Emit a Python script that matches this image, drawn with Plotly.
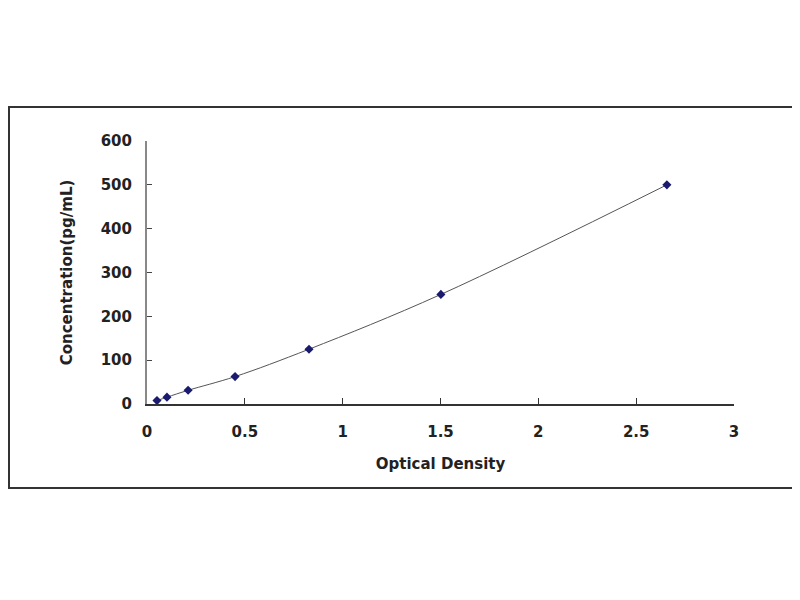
import plotly.graph_objects as go

# standard curve points
optical_density = [0.051, 0.102, 0.21, 0.45, 0.828, 1.502, 2.657]
concentration = [7.8, 15.6, 31.25, 62.5, 125, 250, 500]

x_ticks = [0, 0.5, 1, 1.5, 2, 2.5, 3]
x_tick_text = ["0", "0.5", "1", "1.5", "2", "2.5", "3"]
y_ticks = [0, 100, 200, 300, 400, 500, 600]

font_name = "DejaVu Sans, Arial, sans-serif"

fig = go.Figure()

# fitted curve
fig.add_trace(go.Scatter(x=optical_density, y=concentration, mode="lines",
                         line=dict(color="#555555", width=1, shape="spline"),
                         hoverinfo="skip"))
# standards
fig.add_trace(go.Scatter(x=optical_density, y=concentration, mode="markers",
                         marker=dict(symbol="diamond", size=7, color="#1a1a6e")))

fig.update_xaxes(range=[0, 3], tickvals=x_ticks, ticktext=x_tick_text,
                 showgrid=False, zeroline=False, showline=True,
                 linecolor="#333333", linewidth=2,
                 ticks="inside", ticklen=6, tickcolor="#333333",
                 ticklabelstandoff=13,
                 tickfont=dict(family=font_name, size=15, color="#222222", weight="bold"),
                 title=dict(text="<b>Optical Density</b>", standoff=18,
                            font=dict(family=font_name, size=15, color="#222222")))
fig.update_yaxes(range=[0, 600], tickvals=y_ticks,
                 showgrid=False, zeroline=False, showline=True,
                 linecolor="#888888", linewidth=2,
                 ticks="inside", ticklen=5, tickcolor="#444444",
                 ticklabelstandoff=10,
                 tickfont=dict(family=font_name, size=15, color="#222222", weight="bold"),
                 title=dict(text="<b>Concentration(pg/mL)</b>", standoff=24,
                            font=dict(family=font_name, size=15, color="#222222")))

# outer frame round the chart
fig.add_shape(type="rect", xref="paper", yref="paper",
              x0=-0.2351, x1=1.1073, y0=-0.3194, y1=1.1293,
              line=dict(color="#333333", width=2))

# page body adds 8px, so margins are shifted by that amount
fig.update_layout(width=800, height=600, showlegend=False,
                  paper_bgcolor="white", plot_bgcolor="white",
                  margin=dict(l=139, r=74, t=133, b=204),
                  font=dict(family=font_name, size=15, color="#222222"))

fig.write_html("out.html")
